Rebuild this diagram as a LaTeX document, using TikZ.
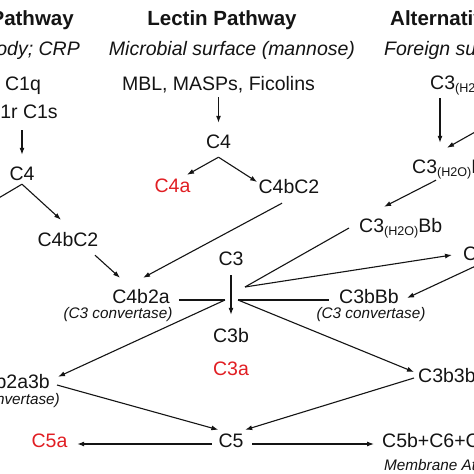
\documentclass[tikz,border=0pt]{standalone}
\usepackage{fontspec}
\setmainfont{Liberation Sans}
\usetikzlibrary{arrows.meta}
\definecolor{redtxt}{RGB}{225,30,35}
\definecolor{inkc}{RGB}{20,20,20}
\newcommand{\hsub}{\raisebox{-3.5pt}{\fontsize{12.6}{14}\selectfont(H2O)}}
\begin{document}
\begin{tikzpicture}[x=1pt,y=-1pt,
  lbl/.style={inner sep=0pt, text height=14pt, text depth=4pt, font=\fontsize{19.5}{22}\selectfont, anchor=base, text=inkc},
  ttl/.style={inner sep=0pt, font=\fontsize{20.5}{24}\selectfont\bfseries, anchor=base, text=inkc},
  sub/.style={inner sep=0pt, font=\fontsize{19.5}{22}\selectfont\itshape, anchor=base, text=inkc},
  note/.style={inner sep=0pt, font=\fontsize{15.3}{18}\selectfont\itshape, anchor=base, text=inkc},
  hl/.style={text=redtxt},
  arr/.style={-{Latex[length=7pt,width=5pt]}, line width=1.1pt, draw=inkc},
  ln/.style={line width=1.1pt, draw=inkc}]
\useasboundingbox (0,0) rectangle (474,474);
\clip (0,0) rectangle (474,474);
\fill[white] (0,0) rectangle (474,474);

% titles
\node[ttl, anchor=base east] (tclass) at (74,25) {Classical Pathway};
\node[ttl] (tlect) at (222,25) {Lectin Pathway};
\node[ttl, anchor=base west] (talt) at (390,25) {Alternative Pathway};
\node[sub, anchor=base east] (sclass) at (80,55) {Antibody; CRP};
\node[sub] (slect) at (232,55) {Microbial surface (mannose)};
\node[sub, anchor=base west] (salt) at (384,55) {Foreign surface};

% nodes
\node[lbl] (c1q) at (23,90) {C1q};
\node[lbl] (mbl) at (218.5,90) {MBL, MASPs, Ficolins};
\node[lbl, anchor=base west] (c3h) at (430,89) {C3\hsub};
\node[lbl] (c1rs) at (22,118) {C1r C1s};
\node[lbl] (c4l) at (218.5,148) {C4};
\node[lbl] (c4c) at (22,180) {C4};
\node[lbl, hl] (c4al) at (172.5,192) {C4a};
\node[lbl] (c4bc2l) at (289,193) {C4bC2};
\node[lbl, anchor=base west] (c3h2) at (412,173) {C3\hsub B};
\node[lbl] (c4bc2c) at (68,246) {C4bC2};
\node[lbl, anchor=base west] (c3hbb) at (359,232) {C3\hsub Bb};
\node[lbl] (c3) at (231,265) {C3};
\node[lbl, anchor=base west] (c3br) at (463,260) {C3b};
\node[lbl] (c4b2a) at (141,303) {C4b2a};
\node[note] (cv1) at (118,318) {(C3 convertase)};
\node[lbl] (c3bbb) at (369,303) {C3bBb};
\node[note] (cv2) at (371,318) {(C3 convertase)};
\node[lbl] (c3b) at (231,342) {C3b};
\node[lbl, hl] (c3a) at (231,375) {C3a};
\node[lbl, anchor=base east] (c4b2a3b) at (50,388) {C4b2a3b};
\node[note, anchor=base east] (cv3) at (60,404) {(C5 convertase)};
\node[lbl, anchor=base west] (c3b3b) at (418,382) {C3b3bBb};
\node[lbl, hl] (c5a) at (49.5,447) {C5a};
\node[lbl] (c5) at (231,447) {C5};
\node[lbl, anchor=base west] (mac) at (382,447) {C5b+C6+C7+C8+C9};
\node[note, anchor=base west] (macl) at (384,470) {Membrane Attack Complex};

% free ends and junctions
\coordinate (c4aoff) at (-30,215);
\coordinate (boff) at (500,118);
\coordinate (c3boff) at (480,264);
\coordinate (jl) at (225,300);
\coordinate (jr) at (238,300);
\coordinate (ju) at (245,287);
\coordinate (c4cj) at (c4c.south);
\coordinate (c4lj) at ([yshift=-5pt]c4l.south);

% connectors
\draw[arr] ([yshift=-8pt]c1rs.south) -- ([yshift=11pt]c4c.north);
\draw[arr] ([yshift=-3pt]mbl.south) -- ([yshift=11pt]c4l.north);
\draw[arr] (c4cj) -- (c4aoff);
\draw[arr] (c4cj) -- ([xshift=-7pt,yshift=12pt]c4bc2c.north);
\draw[arr] (c4lj) -- ([xshift=14.5pt,yshift=3pt]c4al.north);
\draw[arr] (c4lj) -- ([xshift=-1.3pt,yshift=6pt]c4bc2l.west);
\draw[arr] ([xshift=27pt,yshift=-5pt]c4bc2c.south) -- ([xshift=-21pt,yshift=11pt]c4b2a.north);
\draw[arr] ([xshift=-7pt,yshift=-6pt]c4bc2l.south) -- ([xshift=2pt,yshift=11pt]c4b2a.north);
\draw[arr] ([xshift=10pt,yshift=-5pt]c3h.south west) -- ([xshift=28pt,yshift=16pt]c3h2.north west);
\draw[arr] (boff) -- ([xshift=35pt,yshift=11pt]c3h2.north west);
\draw[arr] ([xshift=24pt,yshift=-3pt]c3h2.south west) -- ([xshift=25pt,yshift=11pt]c3hbb.north west);
\draw[arr] ([yshift=-6pt]c3.south) -- ([yshift=13pt]c3b.north);
\draw[ln] ([xshift=9pt,yshift=-2pt]c4b2a.east) -- (jl);
\draw[arr] (jl) -- ([xshift=8pt,yshift=-3pt]c4b2a3b.north east);
\draw[ln] ([xshift=-10pt,yshift=-2pt]c3bbb.west) -- (jr);
\draw[arr] (jr) -- ([xshift=-4pt,yshift=5pt]c3b3b.west);
\draw[ln] ([xshift=-10pt,yshift=-1pt]c3hbb.west) -- (ju);
\draw[arr] (ju) -- ([xshift=-11pt]c3br.west);
\draw[arr] (c3boff) -- ([xshift=8pt]c3bbb.east);
\draw[arr] ([xshift=7pt,yshift=-2pt]c4b2a3b.east) -- ([yshift=3pt]c5.north west);
\draw[arr] ([xshift=-4pt,yshift=-1pt]c3b3b.west) -- ([xshift=1.5pt,yshift=3pt]c5.north east);
\draw[arr] ([xshift=-6.5pt,yshift=-2pt]c5.west) -- ([xshift=9.6pt,yshift=-2pt]c5a.east);
\draw[arr] ([xshift=8.5pt,yshift=-2pt]c5.east) -- ([xshift=-8pt,yshift=-2pt]mac.west);
\end{tikzpicture}
\end{document}
